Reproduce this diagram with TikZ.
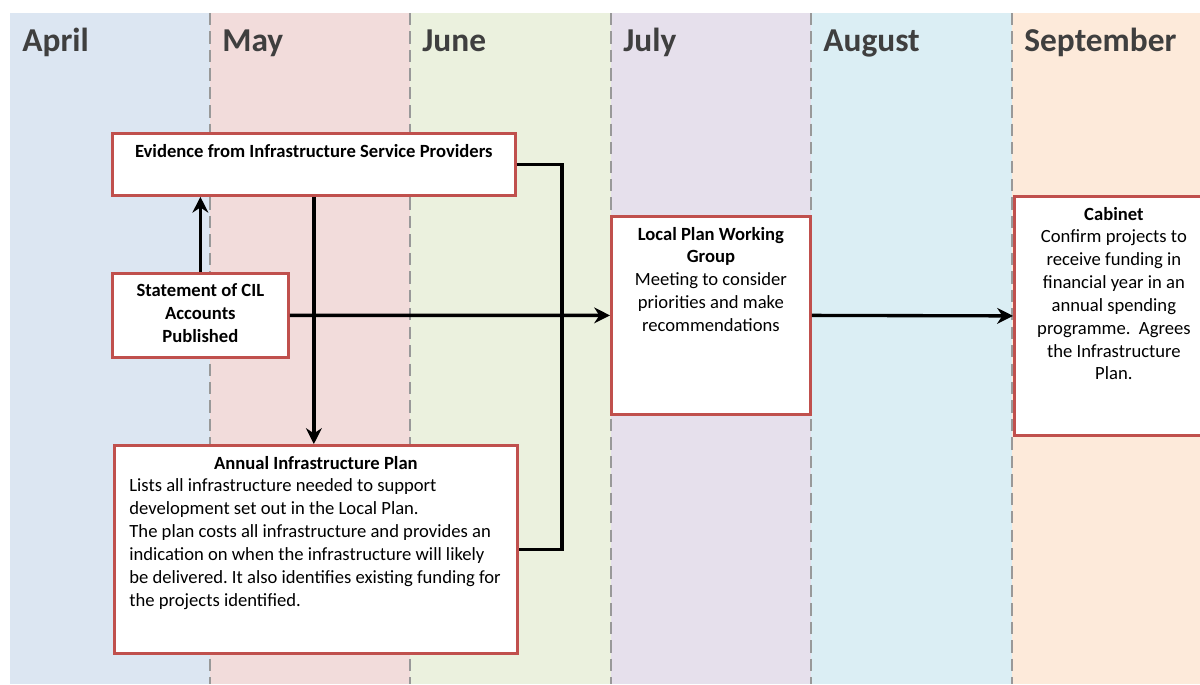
\documentclass[tikz,border=0pt]{standalone}
\usepackage{fontspec}
\setmainfont{Carlito}
\usetikzlibrary{arrows.meta, positioning}

\definecolor{aprilc}{HTML}{DCE6F2}
\definecolor{mayc}{HTML}{F2DCDB}
\definecolor{junec}{HTML}{EBF1DE}
\definecolor{julyc}{HTML}{E6E0EC}
\definecolor{augustc}{HTML}{DBEEF4}
\definecolor{septc}{HTML}{FDEADA}
\definecolor{boxred}{HTML}{C0504D}
\definecolor{monthgray}{HTML}{3F3F3F}

\tikzset{
  stage/.style={draw=boxred, line width=1.6pt, fill=white, inner sep=0pt, anchor=north west, font=\fontsize{10.6}{13}\selectfont},
  flow/.style={line width=1.9pt, -{Stealth[length=9pt, width=9pt]}},
  link/.style={line width=1.9pt},
  divider/.style={gray!80, line width=1pt, dash pattern=on 7pt off 3.5pt},
  month/.style={anchor=base west, text=monthgray, font=\fontsize{19}{23}\selectfont\bfseries, inner sep=0pt}
}

% fixed size box, text from the top
\newcommand{\stagebox}[3]{\parbox[c][#2][t]{#1}{\frenchspacing\vspace*{6pt}#3}}

\begin{document}
\begin{tikzpicture}[x=0.02cm, y=-0.02cm]
    \clip (0,0) rectangle (1200,684);

    % month columns
    \foreach \m/\xa/\xb/\c in {April/10/210/aprilc, May/210/410/mayc, June/410/611/junec, July/611/811/julyc, August/811/1012/augustc, September/1012/1200/septc} {
        \fill[\c] (\xa,13) rectangle (\xb,684);
        \node[month] (lbl\m) at (\xa+12,51) {\m};
    }
    \foreach \x in {210,410,611,811,1012}
        \draw[divider] (\x,13) -- (\x,684);

    % stages
    \node[stage] (evid) at (111,132) {\stagebox{8.06cm}{1.24cm}{\centering\bfseries Evidence from Infrastructure Service Providers}};
    \node[stage] (stmt) at (111,272) {\stagebox{3.52cm}{1.68cm}{\centering\bfseries Statement of CIL\\ Accounts\\ Published}};
    \node[stage] (annual) at (113,444) {\stagebox{8.06cm}{4.16cm}{\centering\textbf{Annual Infrastructure Plan}\par
        \raggedright\leftskip=0.3cm
        Lists all infrastructure needed to support\\
        development set out in the Local Plan.\\
        The plan costs all infrastructure and provides an\\
        indication on when the infrastructure will likely\\
        be delivered. It also identifies existing funding for\\
        the projects identified.}};
    \node[stage] (lpwg) at (610,215) {\stagebox{3.98cm}{3.96cm}{\centering\textbf{Local Plan Working\\ Group}\\
        Meeting to consider\\ priorities and make\\ recommendations}};
    \node[stage] (cab) at (1013,195) {\stagebox{3.98cm}{4.78cm}{\centering\textbf{Cabinet}\\
        Confirm projects to\\ receive funding in\\ financial year in an\\ annual spending\\ programme.\ \ Agrees\\ the Infrastructure\\ Plan.}};

    % connectors
    \coordinate (jn) at (562,314);
    \draw[link] (evid.east) -| (jn) |- (annual.east);
    \draw[flow] (stmt.north) -- (stmt.north |- evid.south);
    \draw[flow] (evid.south) -- (evid.south |- annual.north);
    \draw[flow] (stmt.east) -- (lpwg.west);
    \draw[flow] (lpwg.east) -- (cab.west);
\end{tikzpicture}
\end{document}
